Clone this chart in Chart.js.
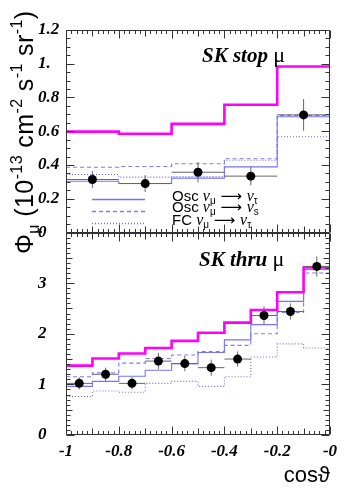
<!DOCTYPE html>
<html><head><meta charset="utf-8">
<script src="https://cdn.jsdelivr.net/npm/chart.js@4.4.0/dist/chart.umd.min.js"></script>
<style>html,body{margin:0;padding:0;background:#fff;}#wrap{width:345px;height:491px;position:relative;}</style>
</head><body><div id="wrap"><canvas id="c" width="345" height="491"></canvas></div>
<script>
// ---------- DATA ----------
// Upper panel: SK stopping muons (bins of 0.2 in cos theta)
const stopEdges = [-1, -0.8, -0.6, -0.4, -0.2, 0];
const stopCenters = [-0.9, -0.7, -0.5, -0.3, -0.1];
const stopData = [0.314, 0.290, 0.357, 0.334, 0.697];
const stopErr = [0.050, 0.050, 0.060, 0.055, 0.094];
const stopNoOsc = [0.598, 0.585, 0.644, 0.757, 0.984];
const stopOscTau = [0.304, 0.290, 0.322, 0.389, 0.686];
const stopOscSterile = [0.387, 0.391, 0.407, 0.437, 0.694];
const stopFC = [0.344, 0.328, 0.332, 0.428, 0.567];
// Lower panel: SK through-going muons (bins of 0.1)
const thruEdges = [-1, -0.9, -0.8, -0.7, -0.6, -0.5, -0.4, -0.3, -0.2, -0.1, 0];
const thruCenters = [-0.95, -0.85, -0.75, -0.65, -0.55, -0.45, -0.35, -0.25, -0.15, -0.05];
const thruData = [1.02, 1.20, 1.02, 1.46, 1.41, 1.33, 1.50, 2.36, 2.44, 3.33];
const thruErr = [0.12, 0.13, 0.12, 0.16, 0.15, 0.16, 0.15, 0.18, 0.16, 0.20];
const thruNoOsc = [1.37, 1.51, 1.61, 1.72, 1.86, 2.02, 2.22, 2.47, 2.82, 3.31];
const thruOscTau = [0.96, 1.06, 1.16, 1.28, 1.41, 1.63, 1.88, 2.18, 2.64, 3.27];
const thruOscSterile = [1.15, 1.23, 1.42, 1.51, 1.58, 1.65, 1.77, 2.00, 2.42, 3.20];
const thruFC = [0.76, 0.87, 0.845, 1.02, 1.06, 0.96, 1.15, 1.54, 1.80, 1.72];
// Tick labels
const xTickLabels = ['-1', '-0.8', '-0.6', '-0.4', '-0.2', '-0'];
const yTopTickLabels = ['0', '0.2', '0.4', '0.6', '0.8', '1.', '1.2'];
const yBotTickLabels = ['0', '1', '2', '3', ''];
// ---------- helpers ----------
function histo(edges, vals) {
  const pts = vals.map((v, i) => ({x: edges[i], y: v}));
  pts.push({x: edges[edges.length - 1], y: vals[vals.length - 1]});
  return pts;
}
function errBars(edges, centers, vals, errs) {
  const pts = [];
  vals.forEach((v, i) => {
    pts.push({x: centers[i], y: v - errs[i]}, {x: centers[i], y: v + errs[i]}, {x: centers[i], y: null});
    pts.push({x: edges[i], y: v}, {x: edges[i + 1], y: v}, {x: edges[i + 1], y: null});
  });
  return pts;
}
const MAG = '#ff00ff', BLUE = '#7373ff', BLUE2 = '#7b7bff', DOT = '#6a6aff';
function histDs(data, axis, color, width, dash) {
  return {data, yAxisID: axis, stepped: true, borderColor: color, borderWidth: width,
    borderDash: dash, pointRadius: 0, fill: false, spanGaps: false};
}
const datasets = [
  {data: stopCenters.map((c, i) => ({x: c, y: stopData[i]})), yAxisID: 'yTop', showLine: false,
    pointRadius: 4.5, pointBackgroundColor: '#000', pointBorderColor: '#000', pointBorderWidth: 0},
  {data: thruCenters.map((c, i) => ({x: c, y: thruData[i]})), yAxisID: 'yBot', showLine: false,
    pointRadius: 4.5, pointBackgroundColor: '#000', pointBorderColor: '#000', pointBorderWidth: 0},
  {data: errBars(stopEdges, stopCenters, stopData, stopErr), yAxisID: 'yTop', borderColor: '#666', borderWidth: 1, pointRadius: 0, spanGaps: false},
  {data: errBars(thruEdges, thruCenters, thruData, thruErr), yAxisID: 'yBot', borderColor: '#666', borderWidth: 1, pointRadius: 0, spanGaps: false},
  histDs(histo(stopEdges, stopNoOsc), 'yTop', MAG, 2.6, []),
  histDs(histo(thruEdges, thruNoOsc), 'yBot', MAG, 2.6, []),
  histDs(histo(stopEdges, stopOscTau), 'yTop', BLUE, 1.1, []),
  histDs(histo(thruEdges, thruOscTau), 'yBot', BLUE, 1.1, []),
  histDs(histo(stopEdges, stopOscSterile), 'yTop', BLUE2, 1.1, [4, 3]),
  histDs(histo(thruEdges, thruOscSterile), 'yBot', BLUE2, 1.1, [4, 3]),
  histDs(histo(stopEdges, stopFC), 'yTop', DOT, 1.1, [1, 2]),
  histDs(histo(thruEdges, thruFC), 'yBot', DOT, 1.1, [1, 2])
];
const tickFont = {family: 'Liberation Serif', size: 17, style: 'italic', weight: 'bold'};

const framePlugin = {
  id: 'rootFrame',
  afterDatasetsDraw(chart) {
    const ctx = chart.ctx, xs = chart.scales.x;
    const L = Math.round(xs.left) + 0.5, R = Math.round(xs.right) - 0.5;
    const panels = [
      {s: chart.scales.yTop, max: 1.2, major: 0.2, mid: null, minor: 0.05},
      {s: chart.scales.yBot, max: 4, major: 1, mid: 0.5, minor: 0.1}
    ];
    ctx.save();
    ctx.strokeStyle = '#333';
    ctx.lineWidth = 1;
    const near = (v, step) => Math.abs(v / step - Math.round(v / step)) < 1e-6;
    panels.forEach(p => {
      const T = Math.round(p.s.top) + 0.5, B = Math.round(p.s.bottom) - 0.5;
      ctx.beginPath();
      ctx.rect(L, T, R - L, B - T);
      const n = Math.round(p.max / p.minor);
      for (let k = 0; k <= n; k++) {
        const v = k * p.minor;
        const y = Math.round(p.s.getPixelForValue(v)) + 0.5;
        let len = 4;
        if (near(v, p.major)) len = 8; else if (p.mid && near(v, p.mid)) len = 6;
        ctx.moveTo(L, y); ctx.lineTo(L + len, y);
        ctx.moveTo(R, y); ctx.lineTo(R - len, y);
      }
      for (let k = 0; k <= 50; k++) {
        const v = -1 + k * 0.02;
        const x = Math.round(xs.getPixelForValue(v)) + 0.5;
        let len = 3.5;
        if (k % 10 === 0) len = 8; else if (k % 5 === 0) len = 6;
        ctx.moveTo(x, B); ctx.lineTo(x, B - len);
        ctx.moveTo(x, T); ctx.lineTo(x, T + len);
      }
      ctx.stroke();
    });
    ctx.restore();
  }
};

function rich(ctx, x, y, parts) {
  parts.forEach(([t, font, dy]) => {
    ctx.font = font;
    ctx.fillText(t, x, y + dy);
    x += ctx.measureText(t).width;
  });
  return x;
}

const textPlugin = {
  id: 'texts',
  afterDraw(chart) {
    const ctx = chart.ctx;
    const yTop = chart.scales.yTop, yBot = chart.scales.yBot;
    ctx.save();
    ctx.fillStyle = '#000';
    ctx.textBaseline = 'alphabetic';
    ctx.textAlign = 'left';
    // y-axis title (rotated)
    ctx.save();
    ctx.translate(33, 254);
    ctx.rotate(-Math.PI / 2);
    try { ctx.letterSpacing = '0.4px'; } catch (e) {}
    const big = '25px "Liberation Sans"', sm = '16px "Liberation Sans"';
    rich(ctx, 0, 0, [['\u03A6', big, 0], ['\u03BC', sm, 6], [' (10', big, 0], ['-13', sm, -11],
      [' cm', big, 0], ['-2', sm, -11], [' s', big, 0], ['-1', sm, -11], [' sr', big, 0], ['-1', sm, -11], [')', big, 0]]);
    ctx.restore();
    // panel labels
    const bi = 'bold italic 21px "Liberation Serif"', mu = '22px "Liberation Serif"';
    rich(ctx, 202, yTop.top + 31.5, [['SK stop ', bi, 0], ['\u03BC', mu, 0]]);
    rich(ctx, 199, yBot.top + 33, [['SK thru ', bi, 0], ['\u03BC', mu, 0]]);
    // legend
    const ds = chart.data.datasets;
    const entries = [
      {d: ds[6], y: yTop.bottom - 33.5, t: [['Osc ', 0], ['\u03BD', 0], ['\u03BC', 3, true], [' \u27F6 ', 0], ['\u03BD', 0], ['\u03C4', 3, true]]},
      {d: ds[8], y: yTop.bottom - 22, t: [['Osc ', 0], ['\u03BD', 0], ['\u03BC', 3, true], [' \u27F6 ', 0], ['\u03BD', 0], ['s', 3, true]]},
      {d: ds[10], y: yTop.bottom - 9.5, t: [['FC ', 0], ['\u03BD', 0], ['\u03BC', 3, true], [' \u27F6 ', 0], ['\u03BD', 0], ['\u03C4', 3, true]]}
    ];
    entries.forEach(e => {
      ctx.save();
      ctx.strokeStyle = e.d.borderColor;
      ctx.lineWidth = 1.3;
      ctx.setLineDash(e.d.borderDash || []);
      ctx.beginPath();
      ctx.moveTo(92, Math.round(e.y) + 0.5);
      ctx.lineTo(145, Math.round(e.y) + 0.5);
      ctx.stroke();
      ctx.restore();
      const parts = e.t.map(([t, dy, sub]) => [t,
        sub ? '10px "Liberation Sans"' :
        (t === '\u03BD' ? 'italic 16px "Liberation Serif"' :
        (t.indexOf('\u27F6') >= 0 ? '15px "DejaVu Sans"' : '15px "Liberation Sans"')), dy]);
      rich(ctx, 172, e.y + 1.5, parts);
    });
    ctx.restore();
  }
};

new Chart(document.getElementById('c'), {
  type: 'line',
  data: {datasets},
  options: {
    responsive: false,
    animation: false,
    devicePixelRatio: 1,
    layout: {padding: {left: 38, top: 30, right: 15, bottom: 0}},
    plugins: {legend: {display: false}, tooltip: {enabled: false}},
    scales: {
      x: {type: 'linear', position: 'bottom', min: -1, max: 0,
        grid: {display: false, drawTicks: false}, border: {display: false},
        ticks: {stepSize: 0.2, autoSkip: false, maxRotation: 0, padding: 6, color: '#000', font: tickFont,
          callback: (v, i) => xTickLabels[i]},
        title: {display: true, text: 'cos\u03D1', align: 'end', color: '#000',
          font: {family: 'Liberation Sans', size: 22}, padding: {top: 0, bottom: 2}},
        afterFit: s => { s.height = 56; }},
      yTop: {type: 'linear', position: 'left', stack: 'panels', stackWeight: 1, weight: 2, min: 0, max: 1.2,
        grid: {display: false, drawTicks: false}, border: {display: false},
        ticks: {stepSize: 0.2, autoSkip: false, crossAlign: 'far', padding: 0, color: '#000', font: tickFont,
          callback: (v, i) => yTopTickLabels[i]},
        afterFit: s => { s.width = 28; }},
      yBot: {type: 'linear', position: 'left', stack: 'panels', stackWeight: 1, weight: 1, min: 0, max: 4,
        grid: {display: false, drawTicks: false}, border: {display: false},
        ticks: {stepSize: 1, autoSkip: false, crossAlign: 'far', padding: 0, color: '#000', font: tickFont,
          callback: (v, i) => yBotTickLabels[i]},
        afterFit: s => { s.width = 28; }}
    }
  },
  plugins: [framePlugin, textPlugin]
});
</script></body></html>
